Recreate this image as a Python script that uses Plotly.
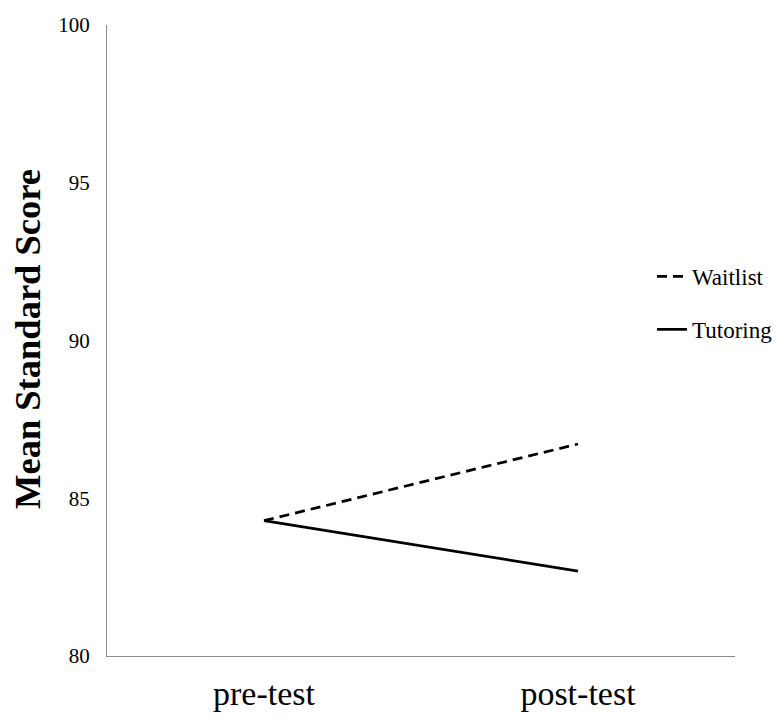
import plotly.graph_objects as go

categories = ["pre-test", "post-test"]
waitlist = [84.29, 86.72]
tutoring = [84.29, 82.69]
y_ticks = [80, 85, 90, 95, 100]

FONT = "Liberation Serif, Times New Roman, serif"

# page body has an 8px margin: figure coordinates = window coordinates - 8
# figure is a bit wider than the window so the legend never pushes the margins
W, H = 790, 709
L, R, T, B = 99, 63, 17, 61
pw = W - L - R
ph = H - T - B


def px_x(x):
    return (x - L) / pw


def px_y(y):
    return (H - B - y) / ph


fig = go.Figure()
fig.add_trace(go.Scatter(x=categories, y=waitlist, mode="lines", name="Waitlist",
                         legendgroup="a",
                         line=dict(color="black", width=2.75, dash="10px,6px")))
fig.add_trace(go.Scatter(x=categories, y=tutoring, mode="lines", name="Tutoring",
                         legendgroup="b",
                         line=dict(color="black", width=2.75)))

fig.update_layout(
    width=W, height=H,
    margin=dict(l=L, r=R, t=T, b=B, pad=0),
    paper_bgcolor="white", plot_bgcolor="white",
    font=dict(family=FONT, color="black"),
    showlegend=True,
    legend=dict(x=px_x(644), y=px_y(247), xanchor="left", yanchor="top",
                font=dict(family=FONT, size=23, color="black"),
                bgcolor="rgba(0,0,0,0)", tracegroupgap=20, itemwidth=30),
    xaxis=dict(type="category", categoryorder="array", categoryarray=categories,
               range=[-0.5, 1.5], showgrid=False, zeroline=False,
               showline=True, linecolor="#8c8c8c", linewidth=1.3,
               ticks="", tickfont=dict(family=FONT, size=34, color="black"),
               ticklabelstandoff=7, automargin=False, fixedrange=True),
    yaxis=dict(range=[80, 100], tickvals=y_ticks, showgrid=False, zeroline=False,
               showline=True, linecolor="#8c8c8c", linewidth=1.3,
               ticks="", tickfont=dict(family=FONT, size=21, color="black"),
               ticklabelstandoff=12, automargin=False, fixedrange=True),
)

fig.add_annotation(text="<b>Mean Standard Score</b>", xref="paper", yref="paper",
                   x=px_x(19), y=px_y(331), xanchor="center", yanchor="middle",
                   textangle=-90, showarrow=False,
                   font=dict(family=FONT, size=36.5, color="black"))

fig.write_html("out.html", config={"displayModeBar": False})
